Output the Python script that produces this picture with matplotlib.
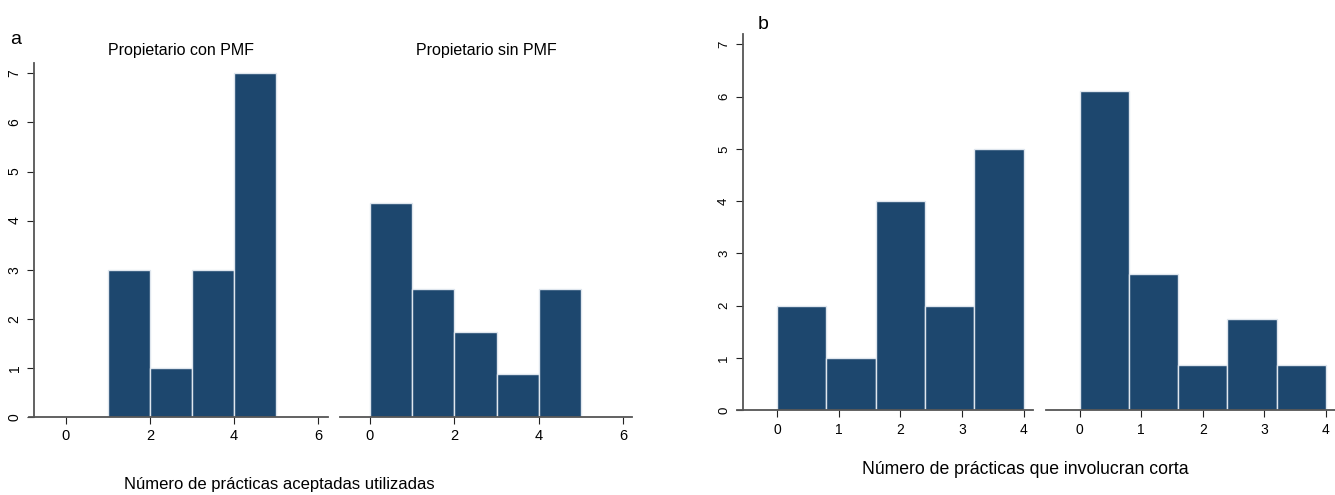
import matplotlib
matplotlib.use("Agg")
import matplotlib.pyplot as plt

plt.rcParams['font.family'] = ['Liberation Sans', 'DejaVu Sans']

# Panel a: número de prácticas aceptadas utilizadas (bins width 1)
a_edges = [0, 1, 2, 3, 4, 5]
a_con_pmf = [0, 3, 1, 3, 7]
a_sin_pmf = [4.35, 2.61, 1.74, 0.87, 2.61]
a_xticks = [0, 2, 4, 6]
a_titles = ["Propietario con PMF", "Propietario sin PMF"]

# Panel b: número de prácticas que involucran corta (bins width 0.8)
b_edges = [0, 0.8, 1.6, 2.4, 3.2, 4.0]
b_left = [2, 1, 4, 2, 5]
b_right = [6.1, 2.61, 0.87, 1.74, 0.87]
b_xticks = [0, 1, 2, 3, 4]
yticks = [0, 1, 2, 3, 4, 5, 6, 7]

BAR = '#1d476e'
W, H = 1335, 495
fig = plt.figure(figsize=(W / 100, H / 100), dpi=100)


def px_axes(x0, x1, ytop, ybot):
    return fig.add_axes([x0 / W, 1 - ybot / H, (x1 - x0) / W, (ybot - ytop) / H])


def draw(ax, edges, vals, xticks, xlim, spine_x=None, fs=10):
    lefts = edges[:-1]
    widths = [edges[i + 1] - edges[i] for i in range(len(vals))]
    ax.bar(lefts, vals, width=widths, align='edge', color=BAR,
           edgecolor='#dfe6ee', linewidth=1.0)
    ax.set_xlim(*xlim)
    ax.set_ylim(0, 7.2)
    ax.spines['top'].set_visible(False)
    ax.spines['right'].set_visible(False)
    ax.spines['bottom'].set_color('#555555')
    ax.spines['bottom'].set_linewidth(1.3)
    ax.set_xticks(xticks)
    ax.tick_params(axis='x', direction='out', length=5, labelsize=fs,
                   pad=4, color='#222222')
    if spine_x is None:
        ax.spines['left'].set_visible(False)
        ax.set_yticks([])
    else:
        ax.spines['left'].set_position(('data', spine_x))
        ax.spines['left'].set_color('#555555')
        ax.spines['left'].set_linewidth(1.3)
        ax.set_yticks(yticks)
        ax.tick_params(axis='y', direction='out', length=5, labelsize=fs - 0.5,
                       pad=4, color='#222222')
        for lab in ax.get_yticklabels():
            lab.set_rotation(90)
            lab.set_va('center')


ax1 = px_axes(29, 328, 63.5, 417)
draw(ax1, a_edges, a_con_pmf, a_xticks, (-0.88, 6.24), spine_x=-0.76, fs=10.5)
ax2 = px_axes(340, 632, 63.5, 417)
draw(ax2, a_edges, a_sin_pmf, a_xticks, (-0.71, 6.21), fs=10.5)

ax3 = px_axes(737, 1033, 34, 410)
draw(ax3, b_edges, b_left, b_xticks, (-0.65, 4.15), spine_x=-0.56, fs=10)
ax4 = px_axes(1046, 1335, 34, 410)
draw(ax4, b_edges, b_right, b_xticks, (-0.55, 4.15), fs=10)

fig.text(181 / W, 1 - 50 / H, a_titles[0], fontsize=11.5, ha='center', va='center')
fig.text(486 / W, 1 - 50 / H, a_titles[1], fontsize=11.5, ha='center', va='center')

fig.text(10 / W, 1 - 44 / H, "a", fontsize=14, ha='left', va='baseline')
fig.text(758 / W, 1 - 29 / H, "b", fontsize=14, ha='left', va='baseline')
fig.text(279 / W, 1 - 485 / H, "Número de prácticas aceptadas utilizadas",
         fontsize=12, ha='center', va='center')
fig.text(1025 / W, 1 - 470 / H, "Número de prácticas que involucran corta",
         fontsize=12.7, ha='center', va='center')

fig.savefig("out.png", dpi=100)
